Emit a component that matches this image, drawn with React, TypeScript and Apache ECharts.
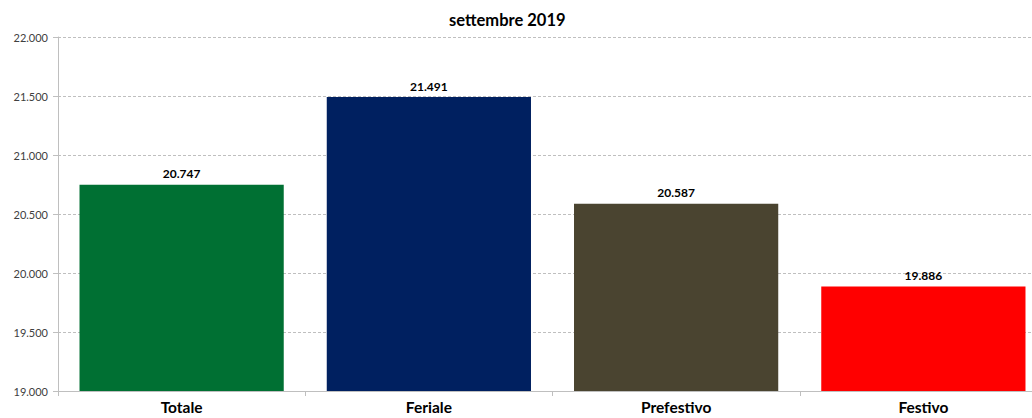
import React, { useEffect, useRef } from "react";
import * as echarts from "echarts";

const categories = ["Totale", "Feriale", "Prefestivo", "Festivo"];
const values = [20747, 21491, 20587, 19886];
const colors = ["#007033", "#002060", "#4a4430", "#ff0000"];
const yTicks = { min: 19000, max: 22000, interval: 500 };

const fmt = (v: number) => {
  const s = String(Math.round(v));
  return s.replace(/\B(?=(\d{3})+(?!\d))/g, ".");
};

export default function App() {
  const ref = useRef<HTMLDivElement>(null);
  useEffect(() => {
    if (!ref.current) return;
    const chart = echarts.init(ref.current, undefined, { renderer: "svg" });
    chart.setOption({
      animation: false,
      textStyle: { fontFamily: "Lato" },
      title: {
        text: "settembre 2019",
        left: 444,
        top: 6,
        textStyle: { fontSize: 16.5, fontWeight: "bold", color: "#000", fontFamily: "Lato" },
      },
      grid: { left: 58, right: 0, top: 37, bottom: 27, containLabel: false },
      xAxis: {
        type: "category",
        data: categories,
        axisLine: { lineStyle: { color: "#bfbfbf", width: 1 } },
        axisTick: { show: true, length: 5, lineStyle: { color: "#bfbfbf" } },
        axisLabel: { fontSize: 15.5, fontWeight: "bold", color: "#000", margin: 8, fontFamily: "Lato" },
      },
      yAxis: {
        type: "value",
        min: yTicks.min,
        max: yTicks.max,
        interval: yTicks.interval,
        axisLine: { show: true, lineStyle: { color: "#bfbfbf" } },
        axisTick: { show: true, length: 5, lineStyle: { color: "#bfbfbf" } },
        axisLabel: { fontSize: 11, color: "#404040", margin: 10, formatter: (v: number) => fmt(v), fontFamily: "Lato" },
        splitLine: { show: true, lineStyle: { color: "#bfbfbf", type: [3, 2], width: 1 } },
      },
      series: [
        {
          type: "bar",
          data: values.map((v, i) => ({ value: v, itemStyle: { color: colors[i] } })),
          barCategoryGap: "17.4%",
          label: {
            show: true,
            position: "top",
            distance: 5,
            fontSize: 12,
            fontWeight: "bold",
            color: "#000",
            fontFamily: "Lato",
            formatter: (p: any) => fmt(p.value),
          },
        },
      ],
    });
    return () => chart.dispose();
  }, []);
  return (
    <div style={{ position: "absolute", left: 0, top: 0, width: 1032, height: 418, overflow: "hidden", background: "#fff" }}>
      <div ref={ref} style={{ width: 1047, height: 418 }} />
    </div>
  );
}
